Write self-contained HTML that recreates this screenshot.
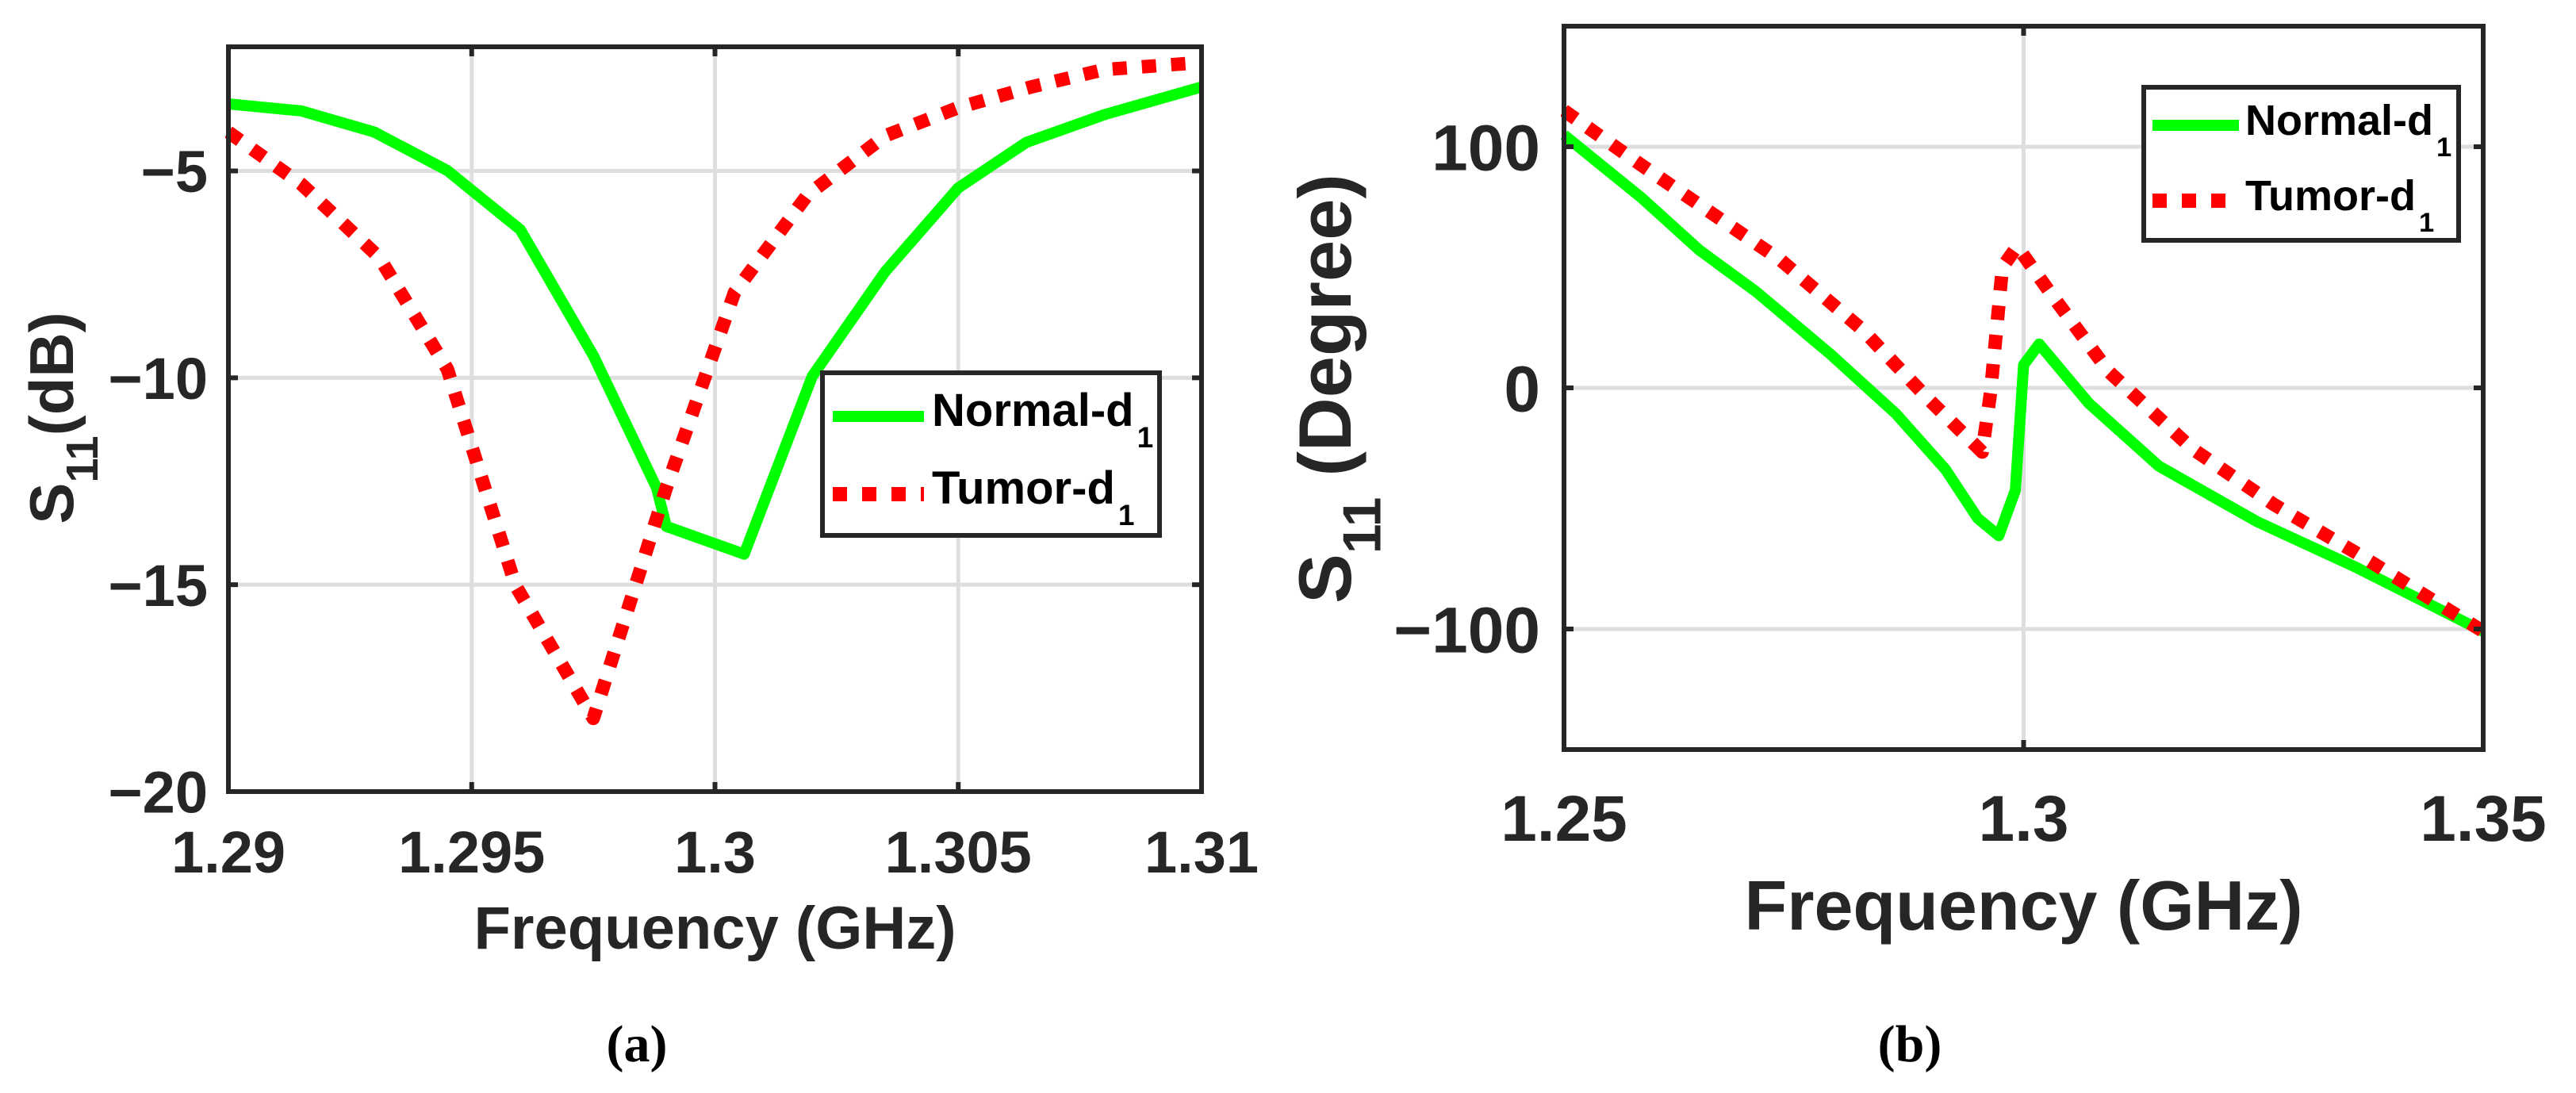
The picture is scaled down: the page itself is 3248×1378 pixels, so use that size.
<!DOCTYPE html>
<html><head><meta charset="utf-8">
<style>
html,body{margin:0;padding:0;background:#fff;}
svg{display:block;}
text{font-family:"Liberation Sans",Arial,sans-serif;font-weight:bold;fill:#262626;}
.cap{font-family:"Liberation Serif",serif;font-weight:bold;fill:#000;}
.leg{fill:#000;}
</style></head>
<body>
<svg id="fig" width="3248" height="1378" viewBox="0 0 3248 1378" xmlns="http://www.w3.org/2000/svg"></svg>
<script>
// Panel (a) data: S11 magnitude (dB)
const freqNormalA = [1.29,1.2915,1.293,1.2945,1.296,1.2975,1.2988,1.299,1.3006,1.302,1.3035,1.305,1.3064,1.308,1.31];
const dbNormalA   = [-3.38,-3.55,-4.06,-4.99,-6.42,-9.46,-12.66,-13.59,-14.26,-9.96,-7.43,-5.41,-4.31,-3.64,-2.97];
const freqTumorA  = [1.29,1.2915,1.2931,1.2945,1.2959,1.2975,1.299,1.3004,1.3019,1.3035,1.305,1.3065,1.308,1.31];
const dbTumorA    = [-4.06,-5.32,-7.09,-9.79,-15.02,-18.23,-12.66,-7.94,-5.58,-4.15,-3.47,-2.97,-2.55,-2.38];
const xTicksA = [1.29,1.295,1.3,1.305,1.31];
const xTickLabelsA = ["1.29","1.295","1.3","1.305","1.31"];
const yTicksA = [-20,-15,-10,-5];
const yTickLabelsA = ["\u221220","\u221215","\u221210","\u22125"];
// Panel (b) data: S11 phase (degree)
const freqNormalB = [1.25,1.2584,1.2647,1.2709,1.279,1.2861,1.2915,1.295,1.2973,1.2991,1.3,1.3017,1.3071,1.3147,1.3254,1.3361,1.35];
const degNormalB  = [104.9,78.9,57.2,39.9,13.9,-10.7,-33.8,-54,-61.3,-42.5,9.5,18.2,-6.4,-32.4,-55.5,-74.3,-101];
const freqTumorB  = [1.25,1.2575,1.2647,1.2736,1.2825,1.2897,1.2955,1.2964,1.2977,1.2993,1.3031,1.3093,1.3183,1.3272,1.3362,1.35];
const degTumorB   = [115,94.8,76,52.9,24,-4.9,-26.6,-2,50,58.7,38.4,6.6,-25.1,-48.3,-68.5,-101];
const xTicksB = [1.25,1.3,1.35];
const xTickLabelsB = ["1.25","1.3","1.35"];
const yTicksB = [-100,0,100];
const yTickLabelsB = ["\u2212100","0","100"];

const NS="http://www.w3.org/2000/svg";
const svg=document.getElementById('fig');
function mk(tag,attrs,parent){const e=document.createElementNS(NS,tag);for(const k in attrs)e.setAttribute(k,attrs[k]);(parent||svg).appendChild(e);return e;}

function panel(cfg){
  const g=mk('g',{});
  
  
  const sx=v=>cfg.x0+(v-cfg.xmin)/(cfg.xmax-cfg.xmin)*(cfg.x1-cfg.x0);
  const sy=v=>cfg.y1-(v-cfg.ymin)/(cfg.ymax-cfg.ymin)*(cfg.y1-cfg.y0);
  cfg.xt.forEach((t,i)=>{
    const l=mk('line',{x1:sx(t),x2:sx(t),y1:cfg.y0,y2:cfg.y1,stroke:'#dedede','stroke-width':5},g);
    
    
  });
  cfg.yt.forEach((t,i)=>{
    const l=mk('line',{x1:cfg.x0,x2:cfg.x1,y1:sy(t),y2:sy(t),stroke:'#dedede','stroke-width':5},g);
    
    
  });
  function series(xs,ys,color,dash,name){
    const d=xs.map((x,i)=>(i?'L':'M')+sx(x).toFixed(1)+' '+sy(ys[i]).toFixed(1)).join(' ');
    const p=mk('path',{d:d,fill:'none',stroke:color,'stroke-width':dash?17:14,'stroke-linejoin':'round','clip-path':'url(#'+cfg.clip+')'},g);
    if(dash)p.setAttribute('stroke-dasharray','18 19');
    
    
  }
  const cp=mk('clipPath',{id:cfg.clip},g);
  mk('rect',{x:cfg.x0-4,y:cfg.y0,width:cfg.x1-cfg.x0+8,height:cfg.y1-cfg.y0},cp);
  series(cfg.nx,cfg.ny,'#00ff00',false,'normal-d1-line');
  series(cfg.tx,cfg.ty,'#ff0000',true,'tumor-d1-line');
  const box=mk('rect',{x:cfg.x0,y:cfg.y0,width:cfg.x1-cfg.x0,height:cfg.y1-cfg.y0,fill:'none',stroke:'#262626','stroke-width':6},g);
  
  
  cfg.xt.forEach((t,i)=>{
    mk('line',{x1:sx(t),x2:sx(t),y1:cfg.y1,y2:cfg.y1-12,stroke:'#262626','stroke-width':6},g);
    mk('line',{x1:sx(t),x2:sx(t),y1:cfg.y0,y2:cfg.y0+12,stroke:'#262626','stroke-width':6},g);
    const tx=mk('text',{x:sx(t),y:cfg.xlabY,'text-anchor':'middle','font-size':cfg.fs},g);
    tx.textContent=cfg.xl[i];
    
    
  });
  cfg.yt.forEach((t,i)=>{
    mk('line',{x1:cfg.x0,x2:cfg.x0+12,y1:sy(t),y2:sy(t),stroke:'#262626','stroke-width':6},g);
    mk('line',{x1:cfg.x1,x2:cfg.x1-12,y1:sy(t),y2:sy(t),stroke:'#262626','stroke-width':6},g);
    const tx=mk('text',{x:cfg.ylabX,y:sy(t)+cfg.fs*0.36,'text-anchor':'end','font-size':cfg.fs},g);
    tx.textContent=cfg.yl[i];
    
    
  });
  const xt=mk('text',{x:(cfg.x0+cfg.x1)/2,y:cfg.xtitleY,'text-anchor':'middle','font-size':cfg.tfs},g);
  xt.textContent='Frequency (GHz)';
  
  
  const yt=mk('text',{transform:'translate('+cfg.ytitleX+','+cfg.ytitleY+') rotate(-90)','text-anchor':'middle','font-size':cfg.ytfs},g);
  yt.innerHTML='S<tspan font-size="'+(cfg.ytfs*0.72)+'" dy="'+(cfg.ytfs*0.4)+'">11</tspan><tspan dy="'+(-cfg.ytfs*0.4)+'">'+cfg.ytitle+'</tspan>';
  
  
  const L=cfg.leg;
  const lg=mk('g',{},g);
  
  
  mk('rect',{x:L.x,y:L.y,width:L.w,height:L.h,fill:'#fff',stroke:'#262626','stroke-width':6},lg);
  [['Normal-d','#00ff00',false,L.r1,'legend-entry-normal'],['Tumor-d','#ff0000',true,L.r2,'legend-entry-tumor']].forEach(e=>{
    const eg=mk('g',{},lg);
    
    
    const ln=mk('line',{x1:L.lx0,x2:L.lx1,y1:e[3],y2:e[3],stroke:e[1],'stroke-width':e[2]?18:14},eg);
    if(e[2])ln.setAttribute('stroke-dasharray','18 19');
    const t=mk('text',{x:L.tx,y:e[3]+12,'font-size':L.fs,class:'leg'},eg);
    t.innerHTML=e[0]+'<tspan font-size="'+(L.fs*0.64)+'" dx="4" dy="27">1</tspan>';
  });
}

panel({name:'panel-a-magnitude',clip:'clipA',x0:288,x1:1515,y0:59,y1:998,xmin:1.29,xmax:1.31,ymin:-20,ymax:-2,
  xt:xTicksA,xl:xTickLabelsA,yt:yTicksA,yl:yTickLabelsA,fs:74,tfs:76,ytfs:78,xlabY:1100,ylabX:262,xtitleY:1196,
  ytitleX:92,ytitleY:527,ytitle:'(dB)',
  nx:freqNormalA,ny:dbNormalA,tx:freqTumorA,ty:dbTumorA,
  leg:{x:1037,y:470,w:425,h:205,r1:525,r2:623,lx0:1050,lx1:1165,tx:1175,fs:58}});

panel({name:'panel-b-phase',clip:'clipB',x0:1972,x1:3131,y0:33,y1:945,xmin:1.25,xmax:1.35,ymin:-150,ymax:150,
  xt:xTicksB,xl:xTickLabelsB,yt:yTicksB,yl:yTickLabelsB,fs:82,tfs:88,ytfs:94,xlabY:1060,ylabX:1942,xtitleY:1172,
  ytitleX:1703,ytitleY:490,ytitle:' (Degree)',
  nx:freqNormalB,ny:degNormalB,tx:freqTumorB,ty:degTumorB,
  leg:{x:2703,y:110,w:397,h:193,r1:158,r2:253,lx0:2714,lx1:2823,tx:2831,fs:54}});

const ca=mk('text',{x:803,y:1338,'text-anchor':'middle','font-size':66,class:'cap'});
ca.textContent='(a)';


const cb=mk('text',{x:2408,y:1338,'text-anchor':'middle','font-size':66,class:'cap'});
cb.textContent='(b)';


</script>
</body></html>
